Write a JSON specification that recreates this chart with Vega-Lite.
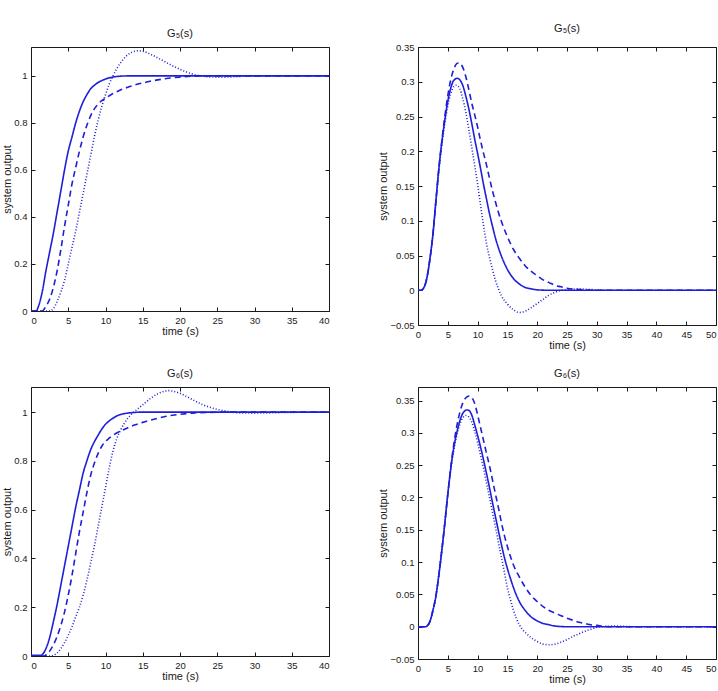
{
  "$schema": "https://vega.github.io/schema/vega-lite/v6.json",
  "padding": {"left": 1, "top": 22, "right": 0, "bottom": 0},
  "config": {
    "font": "Liberation Sans",
    "view": {"stroke": "#1a1a1a", "strokeWidth": 1},
    "axis": {
      "domain": false, "grid": false, "tickSize": -4, "tickColor": "#1a1a1a", "tickWidth": 1,
      "labelFont": "Liberation Sans", "labelFontSize": 9.5, "labelColor": "#1a1a1a", "labelPadding": 8,
      "titleFont": "Liberation Sans", "titleFontSize": 11, "titleFontWeight": "normal", "titleColor": "#1a1a1a", "titlePadding": 1
    },
    "title": {"font": "Liberation Sans", "fontSize": 11, "fontWeight": "normal", "color": "#1a1a1a", "offset": 8},
    "line": {"color": "#1f1fd8", "interpolate": "monotone"}
  },
  "datasets": {
    "g5step": [
      {"s":"c1","t":0,"v":0},{"s":"c1","t":0.7,"v":0},{"s":"c1","t":1,"v":0.02},{"s":"c1","t":1.5,"v":0.08},{"s":"c1","t":2,"v":0.17},{"s":"c1","t":2.5,"v":0.25},{"s":"c1","t":3,"v":0.33},{"s":"c1","t":3.5,"v":0.42},{"s":"c1","t":4,"v":0.51},{"s":"c1","t":4.5,"v":0.6},{"s":"c1","t":5,"v":0.68},{"s":"c1","t":5.5,"v":0.74},{"s":"c1","t":6,"v":0.8},{"s":"c1","t":6.5,"v":0.85},{"s":"c1","t":7,"v":0.89},{"s":"c1","t":7.5,"v":0.92},{"s":"c1","t":8,"v":0.945},{"s":"c1","t":8.5,"v":0.96},{"s":"c1","t":9,"v":0.972},{"s":"c1","t":9.5,"v":0.98},{"s":"c1","t":10,"v":0.987},{"s":"c1","t":11,"v":0.995},{"s":"c1","t":12,"v":0.999},{"s":"c1","t":13,"v":1},{"s":"c1","t":40,"v":1},
      {"s":"c2","t":0,"v":0},{"s":"c2","t":1.5,"v":0},{"s":"c2","t":2,"v":0.02},{"s":"c2","t":2.5,"v":0.05},{"s":"c2","t":3,"v":0.1},{"s":"c2","t":3.5,"v":0.17},{"s":"c2","t":4,"v":0.26},{"s":"c2","t":4.5,"v":0.36},{"s":"c2","t":5,"v":0.45},{"s":"c2","t":5.5,"v":0.54},{"s":"c2","t":6,"v":0.61},{"s":"c2","t":6.5,"v":0.68},{"s":"c2","t":7,"v":0.74},{"s":"c2","t":7.5,"v":0.79},{"s":"c2","t":8,"v":0.83},{"s":"c2","t":8.5,"v":0.86},{"s":"c2","t":9,"v":0.88},{"s":"c2","t":9.5,"v":0.895},{"s":"c2","t":10,"v":0.905},{"s":"c2","t":11,"v":0.925},{"s":"c2","t":12,"v":0.94},{"s":"c2","t":13,"v":0.952},{"s":"c2","t":14,"v":0.962},{"s":"c2","t":15,"v":0.97},{"s":"c2","t":16,"v":0.977},{"s":"c2","t":17,"v":0.983},{"s":"c2","t":18,"v":0.988},{"s":"c2","t":19,"v":0.992},{"s":"c2","t":20,"v":0.995},{"s":"c2","t":22,"v":0.999},{"s":"c2","t":25,"v":1},{"s":"c2","t":40,"v":1},
      {"s":"c3","t":0,"v":0},{"s":"c3","t":2.5,"v":0},{"s":"c3","t":3,"v":0.01},{"s":"c3","t":3.5,"v":0.04},{"s":"c3","t":4,"v":0.08},{"s":"c3","t":4.5,"v":0.13},{"s":"c3","t":5,"v":0.2},{"s":"c3","t":5.5,"v":0.27},{"s":"c3","t":6,"v":0.34},{"s":"c3","t":6.5,"v":0.42},{"s":"c3","t":7,"v":0.5},{"s":"c3","t":7.5,"v":0.58},{"s":"c3","t":8,"v":0.66},{"s":"c3","t":8.5,"v":0.74},{"s":"c3","t":9,"v":0.81},{"s":"c3","t":9.5,"v":0.87},{"s":"c3","t":10,"v":0.92},{"s":"c3","t":10.5,"v":0.965},{"s":"c3","t":11,"v":1},{"s":"c3","t":11.5,"v":1.03},{"s":"c3","t":12,"v":1.055},{"s":"c3","t":12.5,"v":1.075},{"s":"c3","t":13,"v":1.09},{"s":"c3","t":13.5,"v":1.1},{"s":"c3","t":14,"v":1.105},{"s":"c3","t":14.5,"v":1.107},{"s":"c3","t":15,"v":1.105},{"s":"c3","t":15.5,"v":1.1},{"s":"c3","t":16,"v":1.093},{"s":"c3","t":17,"v":1.077},{"s":"c3","t":18,"v":1.06},{"s":"c3","t":19,"v":1.043},{"s":"c3","t":20,"v":1.028},{"s":"c3","t":21,"v":1.015},{"s":"c3","t":22,"v":1.005},{"s":"c3","t":23,"v":0.999},{"s":"c3","t":24,"v":0.996},{"s":"c3","t":25,"v":0.995},{"s":"c3","t":26,"v":0.995},{"s":"c3","t":27,"v":0.996},{"s":"c3","t":28,"v":0.998},{"s":"c3","t":30,"v":1},{"s":"c3","t":40,"v":1}
    ],
    "g5imp": [
      {"s":"c1","t":0,"v":0},{"s":"c1","t":0.5,"v":0},{"s":"c1","t":1,"v":0.004},{"s":"c1","t":1.5,"v":0.018},{"s":"c1","t":2,"v":0.045},{"s":"c1","t":2.5,"v":0.08},{"s":"c1","t":3,"v":0.128},{"s":"c1","t":3.5,"v":0.175},{"s":"c1","t":4,"v":0.213},{"s":"c1","t":4.5,"v":0.245},{"s":"c1","t":5,"v":0.272},{"s":"c1","t":5.5,"v":0.291},{"s":"c1","t":6,"v":0.302},{"s":"c1","t":6.6,"v":0.305},{"s":"c1","t":7,"v":0.303},{"s":"c1","t":7.5,"v":0.295},{"s":"c1","t":8,"v":0.28},{"s":"c1","t":8.5,"v":0.262},{"s":"c1","t":9,"v":0.241},{"s":"c1","t":9.5,"v":0.218},{"s":"c1","t":10,"v":0.197},{"s":"c1","t":10.5,"v":0.175},{"s":"c1","t":11,"v":0.152},{"s":"c1","t":11.5,"v":0.131},{"s":"c1","t":12,"v":0.11},{"s":"c1","t":12.5,"v":0.092},{"s":"c1","t":13,"v":0.075},{"s":"c1","t":13.5,"v":0.061},{"s":"c1","t":14,"v":0.049},{"s":"c1","t":15,"v":0.03},{"s":"c1","t":16,"v":0.017},{"s":"c1","t":17,"v":0.009},{"s":"c1","t":18,"v":0.004},{"s":"c1","t":19,"v":0.002},{"s":"c1","t":20,"v":0.0006},{"s":"c1","t":22,"v":0},{"s":"c1","t":50,"v":0},
      {"s":"c2","t":0,"v":0},{"s":"c2","t":0.5,"v":0},{"s":"c2","t":1,"v":0.004},{"s":"c2","t":1.5,"v":0.018},{"s":"c2","t":2,"v":0.045},{"s":"c2","t":2.5,"v":0.08},{"s":"c2","t":3,"v":0.128},{"s":"c2","t":3.5,"v":0.175},{"s":"c2","t":4,"v":0.215},{"s":"c2","t":4.5,"v":0.25},{"s":"c2","t":5,"v":0.28},{"s":"c2","t":5.5,"v":0.303},{"s":"c2","t":6,"v":0.318},{"s":"c2","t":6.5,"v":0.326},{"s":"c2","t":6.9,"v":0.327},{"s":"c2","t":7.5,"v":0.321},{"s":"c2","t":8,"v":0.308},{"s":"c2","t":8.5,"v":0.29},{"s":"c2","t":9,"v":0.27},{"s":"c2","t":9.5,"v":0.253},{"s":"c2","t":10,"v":0.235},{"s":"c2","t":10.5,"v":0.215},{"s":"c2","t":11,"v":0.197},{"s":"c2","t":11.5,"v":0.18},{"s":"c2","t":12,"v":0.161},{"s":"c2","t":12.5,"v":0.143},{"s":"c2","t":13,"v":0.127},{"s":"c2","t":13.5,"v":0.112},{"s":"c2","t":14,"v":0.099},{"s":"c2","t":15,"v":0.077},{"s":"c2","t":16,"v":0.059},{"s":"c2","t":17,"v":0.046},{"s":"c2","t":18,"v":0.035},{"s":"c2","t":19,"v":0.027},{"s":"c2","t":20,"v":0.021},{"s":"c2","t":21,"v":0.015},{"s":"c2","t":22,"v":0.011},{"s":"c2","t":23,"v":0.007},{"s":"c2","t":24,"v":0.005},{"s":"c2","t":25,"v":0.003},{"s":"c2","t":27,"v":0.001},{"s":"c2","t":30,"v":0},{"s":"c2","t":50,"v":0},
      {"s":"c3","t":0,"v":0},{"s":"c3","t":0.5,"v":0},{"s":"c3","t":1,"v":0.004},{"s":"c3","t":1.5,"v":0.018},{"s":"c3","t":2,"v":0.045},{"s":"c3","t":2.5,"v":0.08},{"s":"c3","t":3,"v":0.127},{"s":"c3","t":3.5,"v":0.172},{"s":"c3","t":4,"v":0.21},{"s":"c3","t":4.5,"v":0.24},{"s":"c3","t":5,"v":0.265},{"s":"c3","t":5.5,"v":0.283},{"s":"c3","t":6,"v":0.293},{"s":"c3","t":6.4,"v":0.295},{"s":"c3","t":7,"v":0.29},{"s":"c3","t":7.5,"v":0.276},{"s":"c3","t":8,"v":0.257},{"s":"c3","t":8.5,"v":0.233},{"s":"c3","t":9,"v":0.207},{"s":"c3","t":9.5,"v":0.18},{"s":"c3","t":10,"v":0.153},{"s":"c3","t":10.5,"v":0.122},{"s":"c3","t":11,"v":0.093},{"s":"c3","t":11.5,"v":0.067},{"s":"c3","t":12,"v":0.047},{"s":"c3","t":12.5,"v":0.03},{"s":"c3","t":13,"v":0.014},{"s":"c3","t":13.5,"v":0.002},{"s":"c3","t":14,"v":-0.008},{"s":"c3","t":15,"v":-0.02},{"s":"c3","t":16,"v":-0.028},{"s":"c3","t":17,"v":-0.032},{"s":"c3","t":18,"v":-0.03},{"s":"c3","t":19,"v":-0.025},{"s":"c3","t":20,"v":-0.019},{"s":"c3","t":21,"v":-0.013},{"s":"c3","t":22,"v":-0.007},{"s":"c3","t":23,"v":-0.003},{"s":"c3","t":24,"v":0},{"s":"c3","t":25,"v":0.001},{"s":"c3","t":27,"v":0.002},{"s":"c3","t":29,"v":0.001},{"s":"c3","t":32,"v":0},{"s":"c3","t":50,"v":0}
    ],
    "g6step": [
      {"s":"c1","t":0,"v":0.003},{"s":"c1","t":1.3,"v":0.003},{"s":"c1","t":1.5,"v":0.006},{"s":"c1","t":2,"v":0.03},{"s":"c1","t":2.5,"v":0.075},{"s":"c1","t":3,"v":0.14},{"s":"c1","t":3.5,"v":0.21},{"s":"c1","t":4,"v":0.29},{"s":"c1","t":4.5,"v":0.37},{"s":"c1","t":5,"v":0.45},{"s":"c1","t":5.5,"v":0.53},{"s":"c1","t":6,"v":0.61},{"s":"c1","t":6.5,"v":0.68},{"s":"c1","t":7,"v":0.75},{"s":"c1","t":7.5,"v":0.8},{"s":"c1","t":8,"v":0.845},{"s":"c1","t":8.5,"v":0.878},{"s":"c1","t":9,"v":0.905},{"s":"c1","t":9.5,"v":0.93},{"s":"c1","t":10,"v":0.95},{"s":"c1","t":10.5,"v":0.964},{"s":"c1","t":11,"v":0.975},{"s":"c1","t":11.5,"v":0.984},{"s":"c1","t":12,"v":0.99},{"s":"c1","t":13,"v":0.996},{"s":"c1","t":14,"v":0.999},{"s":"c1","t":15,"v":1},{"s":"c1","t":40,"v":1},
      {"s":"c2","t":0,"v":0},{"s":"c2","t":1.8,"v":0},{"s":"c2","t":2,"v":0.005},{"s":"c2","t":2.5,"v":0.02},{"s":"c2","t":3,"v":0.045},{"s":"c2","t":3.5,"v":0.08},{"s":"c2","t":4,"v":0.125},{"s":"c2","t":4.5,"v":0.18},{"s":"c2","t":5,"v":0.25},{"s":"c2","t":5.5,"v":0.33},{"s":"c2","t":6,"v":0.42},{"s":"c2","t":6.5,"v":0.51},{"s":"c2","t":7,"v":0.59},{"s":"c2","t":7.5,"v":0.67},{"s":"c2","t":8,"v":0.74},{"s":"c2","t":8.5,"v":0.79},{"s":"c2","t":9,"v":0.83},{"s":"c2","t":9.5,"v":0.86},{"s":"c2","t":10,"v":0.88},{"s":"c2","t":10.5,"v":0.893},{"s":"c2","t":11,"v":0.905},{"s":"c2","t":12,"v":0.922},{"s":"c2","t":13,"v":0.936},{"s":"c2","t":14,"v":0.948},{"s":"c2","t":15,"v":0.958},{"s":"c2","t":16,"v":0.967},{"s":"c2","t":17,"v":0.975},{"s":"c2","t":18,"v":0.982},{"s":"c2","t":19,"v":0.987},{"s":"c2","t":20,"v":0.991},{"s":"c2","t":22,"v":0.997},{"s":"c2","t":24,"v":0.999},{"s":"c2","t":26,"v":1},{"s":"c2","t":40,"v":1},
      {"s":"c3","t":0,"v":0},{"s":"c3","t":2.5,"v":0},{"s":"c3","t":3,"v":0.003},{"s":"c3","t":3.5,"v":0.012},{"s":"c3","t":4,"v":0.03},{"s":"c3","t":4.5,"v":0.055},{"s":"c3","t":5,"v":0.085},{"s":"c3","t":5.5,"v":0.12},{"s":"c3","t":6,"v":0.16},{"s":"c3","t":6.5,"v":0.2},{"s":"c3","t":7,"v":0.25},{"s":"c3","t":7.5,"v":0.31},{"s":"c3","t":8,"v":0.38},{"s":"c3","t":8.5,"v":0.45},{"s":"c3","t":9,"v":0.53},{"s":"c3","t":9.5,"v":0.61},{"s":"c3","t":10,"v":0.69},{"s":"c3","t":10.5,"v":0.77},{"s":"c3","t":11,"v":0.84},{"s":"c3","t":11.5,"v":0.89},{"s":"c3","t":12,"v":0.925},{"s":"c3","t":12.5,"v":0.953},{"s":"c3","t":13,"v":0.975},{"s":"c3","t":13.5,"v":0.992},{"s":"c3","t":14,"v":1.005},{"s":"c3","t":15,"v":1.03},{"s":"c3","t":16,"v":1.055},{"s":"c3","t":17,"v":1.075},{"s":"c3","t":18,"v":1.086},{"s":"c3","t":18.5,"v":1.088},{"s":"c3","t":19,"v":1.086},{"s":"c3","t":20,"v":1.077},{"s":"c3","t":21,"v":1.062},{"s":"c3","t":22,"v":1.046},{"s":"c3","t":23,"v":1.031},{"s":"c3","t":24,"v":1.02},{"s":"c3","t":25,"v":1.011},{"s":"c3","t":26,"v":1.005},{"s":"c3","t":27,"v":1},{"s":"c3","t":28,"v":0.997},{"s":"c3","t":30,"v":0.996},{"s":"c3","t":32,"v":0.997},{"s":"c3","t":35,"v":0.999},{"s":"c3","t":40,"v":1}
    ],
    "g6imp": [
      {"s":"c1","t":0,"v":0},{"s":"c1","t":1.3,"v":0},{"s":"c1","t":1.5,"v":0.001},{"s":"c1","t":2,"v":0.008},{"s":"c1","t":2.5,"v":0.025},{"s":"c1","t":3,"v":0.047},{"s":"c1","t":3.5,"v":0.08},{"s":"c1","t":4,"v":0.118},{"s":"c1","t":4.5,"v":0.16},{"s":"c1","t":5,"v":0.205},{"s":"c1","t":5.5,"v":0.245},{"s":"c1","t":6,"v":0.277},{"s":"c1","t":6.5,"v":0.3},{"s":"c1","t":7,"v":0.318},{"s":"c1","t":7.5,"v":0.33},{"s":"c1","t":8.2,"v":0.3355},{"s":"c1","t":8.5,"v":0.335},{"s":"c1","t":9,"v":0.328},{"s":"c1","t":9.5,"v":0.313},{"s":"c1","t":10,"v":0.296},{"s":"c1","t":10.5,"v":0.278},{"s":"c1","t":11,"v":0.258},{"s":"c1","t":11.5,"v":0.237},{"s":"c1","t":12,"v":0.215},{"s":"c1","t":12.5,"v":0.192},{"s":"c1","t":13,"v":0.17},{"s":"c1","t":13.5,"v":0.148},{"s":"c1","t":14,"v":0.127},{"s":"c1","t":14.5,"v":0.107},{"s":"c1","t":15,"v":0.09},{"s":"c1","t":15.5,"v":0.075},{"s":"c1","t":16,"v":0.061},{"s":"c1","t":16.5,"v":0.049},{"s":"c1","t":17,"v":0.039},{"s":"c1","t":18,"v":0.025},{"s":"c1","t":19,"v":0.015},{"s":"c1","t":20,"v":0.009},{"s":"c1","t":21,"v":0.005},{"s":"c1","t":22,"v":0.003},{"s":"c1","t":23,"v":0.001},{"s":"c1","t":25,"v":0},{"s":"c1","t":50,"v":0},
      {"s":"c2","t":0,"v":0},{"s":"c2","t":1.3,"v":0},{"s":"c2","t":1.5,"v":0.001},{"s":"c2","t":2,"v":0.008},{"s":"c2","t":2.5,"v":0.025},{"s":"c2","t":3,"v":0.047},{"s":"c2","t":3.5,"v":0.08},{"s":"c2","t":4,"v":0.118},{"s":"c2","t":4.5,"v":0.16},{"s":"c2","t":5,"v":0.205},{"s":"c2","t":5.5,"v":0.247},{"s":"c2","t":6,"v":0.282},{"s":"c2","t":6.5,"v":0.31},{"s":"c2","t":7,"v":0.331},{"s":"c2","t":7.5,"v":0.346},{"s":"c2","t":8,"v":0.354},{"s":"c2","t":8.6,"v":0.357},{"s":"c2","t":9,"v":0.355},{"s":"c2","t":9.5,"v":0.346},{"s":"c2","t":10,"v":0.328},{"s":"c2","t":10.5,"v":0.308},{"s":"c2","t":11,"v":0.288},{"s":"c2","t":11.5,"v":0.268},{"s":"c2","t":12,"v":0.249},{"s":"c2","t":12.5,"v":0.227},{"s":"c2","t":13,"v":0.205},{"s":"c2","t":13.5,"v":0.184},{"s":"c2","t":14,"v":0.161},{"s":"c2","t":14.5,"v":0.141},{"s":"c2","t":15,"v":0.124},{"s":"c2","t":15.5,"v":0.109},{"s":"c2","t":16,"v":0.096},{"s":"c2","t":17,"v":0.077},{"s":"c2","t":18,"v":0.061},{"s":"c2","t":19,"v":0.048},{"s":"c2","t":20,"v":0.039},{"s":"c2","t":21,"v":0.031},{"s":"c2","t":22,"v":0.025},{"s":"c2","t":23,"v":0.021},{"s":"c2","t":24,"v":0.017},{"s":"c2","t":25,"v":0.013},{"s":"c2","t":26,"v":0.01},{"s":"c2","t":27,"v":0.007},{"s":"c2","t":28,"v":0.005},{"s":"c2","t":29,"v":0.003},{"s":"c2","t":30,"v":0.002},{"s":"c2","t":32,"v":0},{"s":"c2","t":50,"v":0},
      {"s":"c3","t":0,"v":0},{"s":"c3","t":1.3,"v":0},{"s":"c3","t":1.5,"v":0.001},{"s":"c3","t":2,"v":0.008},{"s":"c3","t":2.5,"v":0.025},{"s":"c3","t":3,"v":0.047},{"s":"c3","t":3.5,"v":0.081},{"s":"c3","t":4,"v":0.12},{"s":"c3","t":4.5,"v":0.162},{"s":"c3","t":5,"v":0.205},{"s":"c3","t":5.5,"v":0.243},{"s":"c3","t":6,"v":0.273},{"s":"c3","t":6.5,"v":0.296},{"s":"c3","t":7,"v":0.313},{"s":"c3","t":7.5,"v":0.323},{"s":"c3","t":8,"v":0.327},{"s":"c3","t":8.5,"v":0.325},{"s":"c3","t":9,"v":0.317},{"s":"c3","t":9.5,"v":0.303},{"s":"c3","t":10,"v":0.285},{"s":"c3","t":10.5,"v":0.265},{"s":"c3","t":11,"v":0.245},{"s":"c3","t":11.5,"v":0.222},{"s":"c3","t":12,"v":0.2},{"s":"c3","t":12.5,"v":0.177},{"s":"c3","t":13,"v":0.154},{"s":"c3","t":13.5,"v":0.13},{"s":"c3","t":14,"v":0.107},{"s":"c3","t":14.5,"v":0.084},{"s":"c3","t":15,"v":0.06},{"s":"c3","t":15.5,"v":0.042},{"s":"c3","t":16,"v":0.026},{"s":"c3","t":16.5,"v":0.013},{"s":"c3","t":17,"v":0.003},{"s":"c3","t":17.5,"v":-0.004},{"s":"c3","t":18,"v":-0.009},{"s":"c3","t":19,"v":-0.017},{"s":"c3","t":20,"v":-0.023},{"s":"c3","t":21,"v":-0.027},{"s":"c3","t":22,"v":-0.028},{"s":"c3","t":23,"v":-0.027},{"s":"c3","t":24,"v":-0.024},{"s":"c3","t":25,"v":-0.02},{"s":"c3","t":26,"v":-0.015},{"s":"c3","t":27,"v":-0.011},{"s":"c3","t":28,"v":-0.007},{"s":"c3","t":29,"v":-0.004},{"s":"c3","t":30,"v":-0.001},{"s":"c3","t":31,"v":0},{"s":"c3","t":33,"v":0.001},{"s":"c3","t":36,"v":0},{"s":"c3","t":50,"v":0}
    ]
  },
  "columns": 2,
  "spacing": {"row": 16, "column": 47},
  "concat": [
    {
      "width": 298, "height": 264,
      "title": "G₅(s)",
      "data": {"name": "g5step"},
      "layer": [
        {
          "mark": {"type": "line", "clip": true},
          "encoding": {
            "x": {"field": "t", "type": "quantitative", "scale": {"domain": [0, 40], "nice": false}, "axis": {"title": "time (s)", "values": [0, 5, 10, 15, 20, 25, 30, 35, 40], "format": "~g"}},
            "y": {"field": "v", "type": "quantitative", "scale": {"domain": [0, 1.123], "nice": false, "zero": false}, "axis": {"title": "system output", "values": [0, 0.2, 0.4, 0.6, 0.8, 1], "format": "~g"}},
            "strokeDash": {"field": "s", "type": "nominal", "scale": {"domain": ["c1", "c2", "c3"], "range": [[1, 0], [6, 4], [1, 2]]}, "legend": null},
            "strokeWidth": {"field": "s", "type": "nominal", "scale": {"domain": ["c1", "c2", "c3"], "range": [1.6, 1.6, 0.8]}, "legend": null}
          }
        },
        {
          "mark": {"type": "line", "strokeOpacity": 0},
          "encoding": {
            "x": {"field": "t", "type": "quantitative", "axis": {"orient": "top", "labels": false, "title": null, "values": [0, 5, 10, 15, 20, 25, 30, 35, 40]}},
            "y": {"field": "v", "type": "quantitative", "axis": {"orient": "right", "labels": false, "title": null, "values": [0, 0.2, 0.4, 0.6, 0.8, 1]}},
            "detail": {"field": "s"}
          }
        }
      ],
      "resolve": {"axis": {"x": "independent", "y": "independent"}}
    },
    {
      "width": 298, "height": 278,
      "title": "G₅(s)",
      "data": {"name": "g5imp"},
      "layer": [
        {
          "mark": {"type": "line", "clip": true},
          "encoding": {
            "x": {"field": "t", "type": "quantitative", "scale": {"domain": [0, 50], "nice": false}, "axis": {"title": "time (s)", "values": [0, 5, 10, 15, 20, 25, 30, 35, 40, 45, 50], "format": "~g", "labelAlign": {"condition": {"test": "datum.value == 50", "value": "right"}, "value": "center"}}},
            "y": {"field": "v", "type": "quantitative", "scale": {"domain": [-0.05, 0.35], "nice": false, "zero": false}, "axis": {"title": "system output", "values": [-0.05, 0, 0.05, 0.1, 0.15, 0.2, 0.25, 0.3, 0.35], "format": "~g"}},
            "strokeDash": {"field": "s", "type": "nominal", "scale": {"domain": ["c1", "c2", "c3"], "range": [[1, 0], [6, 4], [1, 2]]}, "legend": null},
            "strokeWidth": {"field": "s", "type": "nominal", "scale": {"domain": ["c1", "c2", "c3"], "range": [1.6, 1.6, 0.8]}, "legend": null}
          }
        },
        {
          "mark": {"type": "line", "strokeOpacity": 0},
          "encoding": {
            "x": {"field": "t", "type": "quantitative", "axis": {"orient": "top", "labels": false, "title": null, "values": [0, 5, 10, 15, 20, 25, 30, 35, 40, 45, 50]}},
            "y": {"field": "v", "type": "quantitative", "axis": {"orient": "right", "labels": false, "title": null, "values": [-0.05, 0, 0.05, 0.1, 0.15, 0.2, 0.25, 0.3, 0.35]}},
            "detail": {"field": "s"}
          }
        }
      ],
      "resolve": {"axis": {"x": "independent", "y": "independent"}}
    },
    {
      "width": 298, "height": 269,
      "title": "G₆(s)",
      "data": {"name": "g6step"},
      "layer": [
        {
          "mark": {"type": "line", "clip": true},
          "encoding": {
            "x": {"field": "t", "type": "quantitative", "scale": {"domain": [0, 40], "nice": false}, "axis": {"title": "time (s)", "values": [0, 5, 10, 15, 20, 25, 30, 35, 40], "format": "~g"}},
            "y": {"field": "v", "type": "quantitative", "scale": {"domain": [0, 1.103], "nice": false, "zero": false}, "axis": {"title": "system output", "values": [0, 0.2, 0.4, 0.6, 0.8, 1], "format": "~g"}},
            "strokeDash": {"field": "s", "type": "nominal", "scale": {"domain": ["c1", "c2", "c3"], "range": [[1, 0], [6, 4], [1, 2]]}, "legend": null},
            "strokeWidth": {"field": "s", "type": "nominal", "scale": {"domain": ["c1", "c2", "c3"], "range": [1.6, 1.6, 0.8]}, "legend": null}
          }
        },
        {
          "mark": {"type": "line", "strokeOpacity": 0},
          "encoding": {
            "x": {"field": "t", "type": "quantitative", "axis": {"orient": "top", "labels": false, "title": null, "values": [0, 5, 10, 15, 20, 25, 30, 35, 40]}},
            "y": {"field": "v", "type": "quantitative", "axis": {"orient": "right", "labels": false, "title": null, "values": [0, 0.2, 0.4, 0.6, 0.8, 1]}},
            "detail": {"field": "s"}
          }
        }
      ],
      "resolve": {"axis": {"x": "independent", "y": "independent"}}
    },
    {
      "width": 298, "height": 272,
      "title": "G₆(s)",
      "data": {"name": "g6imp"},
      "layer": [
        {
          "mark": {"type": "line", "clip": true},
          "encoding": {
            "x": {"field": "t", "type": "quantitative", "scale": {"domain": [0, 50], "nice": false}, "axis": {"title": "time (s)", "values": [0, 5, 10, 15, 20, 25, 30, 35, 40, 45, 50], "format": "~g", "labelAlign": {"condition": {"test": "datum.value == 50", "value": "right"}, "value": "center"}}},
            "y": {"field": "v", "type": "quantitative", "scale": {"domain": [-0.05, 0.371], "nice": false, "zero": false}, "axis": {"title": "system output", "values": [-0.05, 0, 0.05, 0.1, 0.15, 0.2, 0.25, 0.3, 0.35], "format": "~g"}},
            "strokeDash": {"field": "s", "type": "nominal", "scale": {"domain": ["c1", "c2", "c3"], "range": [[1, 0], [6, 4], [1, 2]]}, "legend": null},
            "strokeWidth": {"field": "s", "type": "nominal", "scale": {"domain": ["c1", "c2", "c3"], "range": [1.6, 1.6, 0.8]}, "legend": null}
          }
        },
        {
          "mark": {"type": "line", "strokeOpacity": 0},
          "encoding": {
            "x": {"field": "t", "type": "quantitative", "axis": {"orient": "top", "labels": false, "title": null, "values": [0, 5, 10, 15, 20, 25, 30, 35, 40, 45, 50]}},
            "y": {"field": "v", "type": "quantitative", "axis": {"orient": "right", "labels": false, "title": null, "values": [-0.05, 0, 0.05, 0.1, 0.15, 0.2, 0.25, 0.3, 0.35]}},
            "detail": {"field": "s"}
          }
        }
      ],
      "resolve": {"axis": {"x": "independent", "y": "independent"}}
    }
  ]
}
